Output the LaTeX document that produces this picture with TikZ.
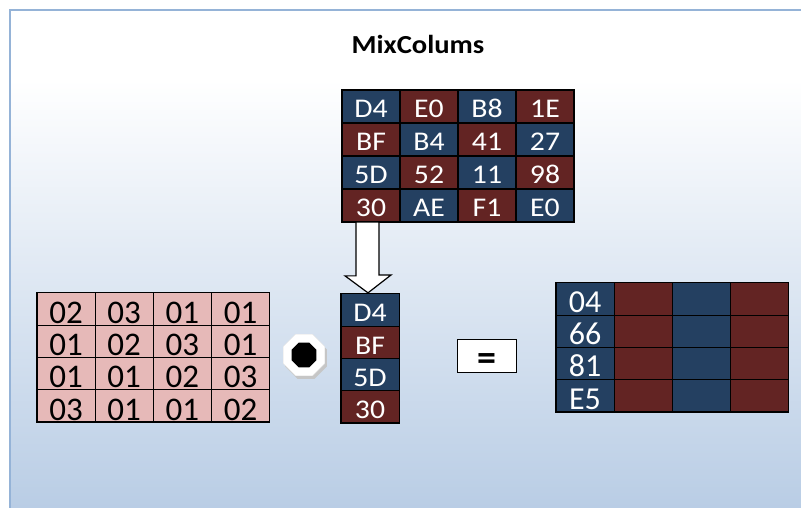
\documentclass[tikz,border=0pt]{standalone}
\usepackage{fontspec}
\setmainfont{Carlito}
\newfontfamily\widefont[FakeStretch=1.1]{Carlito}
\newfontfamily\titlefont[FakeStretch=1.1]{Carlito}
\usetikzlibrary{shapes.geometric, positioning, calc}
\definecolor{cellblue}{HTML}{244061}
\definecolor{cellred}{HTML}{632423}
\definecolor{cellpink}{HTML}{E6B9B8}
\definecolor{framecol}{HTML}{95B3D7}
\definecolor{bgbottom}{HTML}{B9CDE5}
\pgfdeclareverticalshading{bgfade}{100bp}{color(0bp)=(bgbottom); color(25bp)=(bgbottom); color(68bp)=(white); color(100bp)=(white)}
\tikzset{
    cell/.style={rectangle, draw=black, line width=1.2pt, outer sep=0pt, inner sep=0pt, minimum width=58.2pt, minimum height=32.3pt, text=white, text depth=0pt},
    bluecell/.style={cell, fill=cellblue, text height=23.4pt, font=\widefont\fontsize{27}{27}\selectfont},
    redcell/.style={cell, fill=cellred, text height=23.4pt, font=\widefont\fontsize{27}{27}\selectfont},
    statecell/.style={minimum height=33pt, minimum width=58pt, text height=22pt},
    pinkcell/.style={cell, fill=cellpink, text=black, text height=28.3pt, font=\fontsize{33}{33}\selectfont},
    rescell/.style={cell, fill=cellblue, text height=26.7pt, font=\fontsize{32}{32}\selectfont},
    octbox/.style={regular polygon, regular polygon sides=8, inner sep=0pt, outer sep=0pt},
    eqbox/.style={rectangle, draw=black, line width=1pt, fill=white, minimum width=59pt, minimum height=33pt, text height=30pt, text depth=0pt, inner sep=0pt, font=\bfseries\fontsize{38}{38}\selectfont},
    titlebox/.style={rectangle, fill=white, minimum width=360pt, minimum height=52pt, font=\titlefont\bfseries\fontsize{26}{26}\selectfont},
    blockarrow/.style={draw=black, line width=1.2pt, fill=white, line join=miter}
}
\begin{document}
\begin{tikzpicture}[x=1pt, y=-1pt, node distance=0pt]
    % Background
    \useasboundingbox (0,0) rectangle (801,508);
    \shade[shading=bgfade] (10,10) rectangle (801,508);
    \draw[framecol, line width=2.5pt] (10,510) -- (10,10) -- (803,10);
    \node (title) [titlebox] at (418,44) {MixColums};
    % State
    \node (s11) [bluecell, statecell] at (371,106.5) {D4}; \node (s12) [redcell, statecell, right=of s11] {E0}; \node (s13) [bluecell, statecell, right=of s12] {B8}; \node (s14) [redcell, statecell, right=of s13] {1E};
    \node (s21) [redcell, statecell, below=of s11] {BF}; \node (s22) [bluecell, statecell, right=of s21] {B4}; \node (s23) [redcell, statecell, right=of s22] {41}; \node (s24) [bluecell, statecell, right=of s23] {27};
    \node (s31) [bluecell, statecell, below=of s21] {5D}; \node (s32) [redcell, statecell, right=of s31] {52}; \node (s33) [bluecell, statecell, right=of s32] {11}; \node (s34) [redcell, statecell, right=of s33] {98};
    \node (s41) [redcell, statecell, below=of s31] {30}; \node (s42) [bluecell, statecell, right=of s41] {AE}; \node (s43) [redcell, statecell, right=of s42] {F1}; \node (s44) [bluecell, statecell, right=of s43] {E0};
    % Column
    \node (c1) [bluecell] at (370,310) {D4};
    \node (c2) [redcell, below=of c1] {BF};
    \node (c3) [bluecell, below=of c2] {5D};
    \node (c4) [redcell, below=of c3] {30};
    % Arrow
    \draw[blockarrow] ($(s41.south)+(-15,0)$) -- ++(23,0) -- ++(0,53) -- ++(12,0) -- ($(c1.north)+(-2,-1)$) -- ++(-23,-17) -- ++(11,0) -- cycle;
    % Fixed matrix
    \node (m11) [pinkcell] at (66,309) {02}; \node (m12) [pinkcell, right=of m11] {03}; \node (m13) [pinkcell, right=of m12] {01}; \node (m14) [pinkcell, right=of m13] {01};
    \node (m21) [pinkcell, below=of m11] {01}; \node (m22) [pinkcell, right=of m21] {02}; \node (m23) [pinkcell, right=of m22] {03}; \node (m24) [pinkcell, right=of m23] {01};
    \node (m31) [pinkcell, below=of m21] {01}; \node (m32) [pinkcell, right=of m31] {01}; \node (m33) [pinkcell, right=of m32] {02}; \node (m34) [pinkcell, right=of m33] {03};
    \node (m41) [pinkcell, below=of m31] {03}; \node (m42) [pinkcell, right=of m41] {01}; \node (m43) [pinkcell, right=of m42] {01}; \node (m44) [pinkcell, right=of m43] {02};
    % Product sign
    \node (dotshadow) [octbox, fill=gray!45, minimum size=45pt] at (306,358) {};
    \node (dot) [octbox, fill=white, draw=gray!25, minimum size=45pt] at (304,355) {};
    \node (dotcore) [octbox, fill=black, minimum size=27pt] at (dot) {};
    \node (equals) [eqbox] at (486.5,355.5) {=};
    % Result
    \node (r11) [rescell] at (585,299) {04}; \node (r12) [cell, fill=cellred, right=of r11] {}; \node (r13) [cell, fill=cellblue, right=of r12] {}; \node (r14) [cell, fill=cellred, right=of r13] {};
    \node (r21) [rescell, below=of r11] {66}; \node (r22) [cell, fill=cellred, right=of r21] {}; \node (r23) [cell, fill=cellblue, right=of r22] {}; \node (r24) [cell, fill=cellred, right=of r23] {};
    \node (r31) [rescell, below=of r21] {81}; \node (r32) [cell, fill=cellred, right=of r31] {}; \node (r33) [cell, fill=cellblue, right=of r32] {}; \node (r34) [cell, fill=cellred, right=of r33] {};
    \node (r41) [rescell, below=of r31] {E5}; \node (r42) [cell, fill=cellred, right=of r41] {}; \node (r43) [cell, fill=cellblue, right=of r42] {}; \node (r44) [cell, fill=cellred, right=of r43] {};
\end{tikzpicture}
\end{document}
